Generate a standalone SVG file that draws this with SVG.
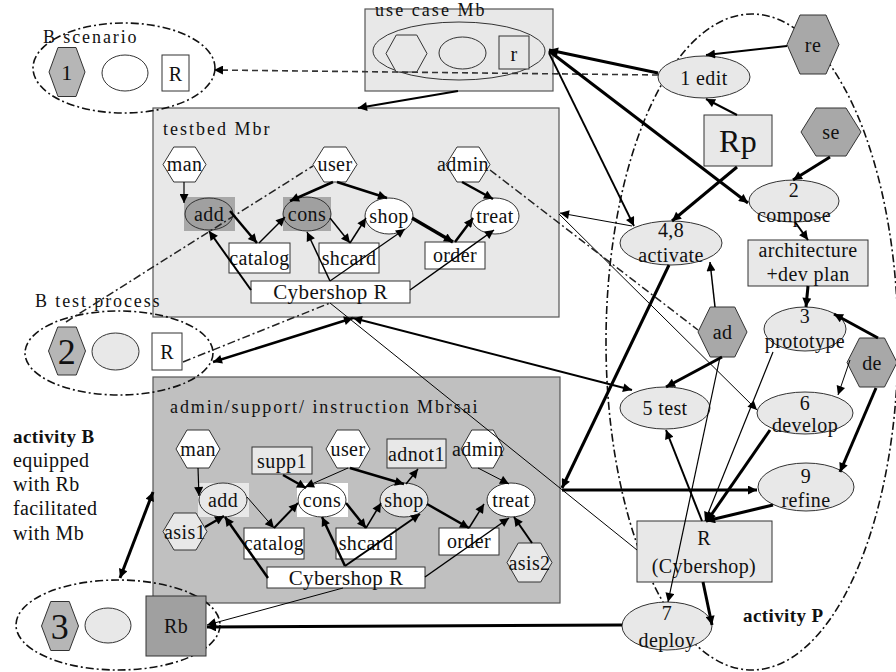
<svg xmlns="http://www.w3.org/2000/svg" width="896" height="672" viewBox="0 0 896 672" font-family="'Liberation Serif', 'Times New Roman', serif">
<defs>
<style>
text{font-family:"Liberation Serif","Times New Roman",serif;font-size:20px;fill:#111;letter-spacing:0.4px}
.m{text-anchor:middle}
.lbl{font-size:18px}
.bold{font-weight:bold;font-size:19px}
.nd{stroke:#333;stroke-width:1}
.box{stroke:#555;stroke-width:1.2}
.w{fill:#fff}
.lg{fill:#e8e8e8}
.dg{fill:#a8a8a8}
.mg{fill:#b6b6b6}
.e{fill:none;stroke:#111;stroke-width:1.6;stroke-dasharray:8 3 2 3}
#conn line{stroke:#000;fill:none}
#conn .dd{stroke-dasharray:8 3 2 3;stroke:#222}
#conn .ds{stroke-dasharray:6 4;stroke:#333}
.a{marker-end:url(#ah)}
.d{marker-end:url(#ah);marker-start:url(#ah)}
</style>
<marker id="ah" viewBox="0 0 10 10" refX="10" refY="5" markerWidth="11" markerHeight="9" markerUnits="userSpaceOnUse" orient="auto-start-reverse"><path d="M0,0 L10,5 L0,10 z" fill="#000"/></marker>
</defs>
<rect width="896" height="672" fill="#fff"/>

<!-- containers -->
<g id="usecase">
<rect class="box lg" x="365" y="9" width="188" height="82"/>
<text class="lbl" x="375" y="16" textLength="110">use case Mb</text>
<ellipse class="nd lg" cx="459" cy="51" rx="86" ry="29"/>
<polygon class="nd lg" points="386,53.5 396.25,35 416.75,35 427,53.5 416.75,72 396.25,72"/>
<ellipse class="nd lg" cx="462.5" cy="53" rx="23.5" ry="16"/>
<rect class="nd lg" x="499" y="36" width="30" height="33"/>
<text class="m" x="514" y="61">r</text>
</g>

<g id="testbed">
<rect class="box lg" x="153" y="108" width="406" height="209"/>
<text class="lbl" x="163" y="135" textLength="107">testbed Mbr</text>
</g>

<g id="adminbox">
<rect class="box" fill="#c0c0c0" x="153" y="377" width="407" height="226"/>
<text class="lbl" x="170" y="413" textLength="308">admin/support/ instruction Mbrsai</text>
</g>

<!-- left scenario ellipses -->
<g id="Bscenario">
<ellipse class="e" cx="124" cy="68" rx="91" ry="45"/>
<text class="lbl" x="43" y="43" textLength="94">B scenario</text>
<polygon class="nd mg" points="49,72 58,47.5 76,47.5 85,72 76,96.5 58,96.5"/>
<text class="m" x="67" y="80" style="font-size:22px">1</text>
<ellipse class="nd w" cx="125" cy="73" rx="23" ry="18"/>
<rect class="nd w" x="162" y="55" width="27" height="36"/>
<text class="m" x="175.5" y="81">R</text>
</g>

<g id="Btest">
<ellipse class="e" cx="119" cy="353" rx="94" ry="42"/>
<text class="lbl" x="35" y="307" textLength="125">B test process</text>
<polygon class="nd mg" points="48.5,351 57.75,327 76.25,327 85.5,351 76.25,375 57.75,375"/>
<text class="m" x="67" y="364" style="font-size:36px">2</text>
<ellipse class="nd lg" cx="115.5" cy="351.5" rx="23.5" ry="18.5"/>
<rect class="nd w" x="152" y="333" width="30" height="37"/>
<text class="m" x="167" y="359">R</text>
</g>

<g id="B3">
<ellipse class="e" cx="118" cy="625" rx="102" ry="45"/>
<polygon class="nd mg" points="41.5,626 50.75,601.5 69.25,601.5 78.5,626 69.25,650.5 50.75,650.5"/>
<text class="m" x="60" y="639" style="font-size:36px">3</text>
<ellipse class="nd lg" cx="108" cy="625.5" rx="23" ry="17.5"/>
<rect class="nd" fill="#a0a0a0" x="146" y="596" width="60" height="60"/>
<text class="m" x="176" y="633">Rb</text>
</g>

<g id="activityB">
<text class="bold" x="13" y="443">activity B</text>
<text x="13" y="467">equipped</text>
<text x="13" y="491">with Rb</text>
<text x="13" y="515">facilitated</text>
<text x="13" y="540">with Mb</text>
</g>

<g id="activityP">
<ellipse class="e" cx="752" cy="342" rx="146" ry="328"/>
<text class="bold" x="743" y="622">activity P</text>
</g>

<!-- testbed nodes -->
<g id="tb-man"><polygon class="nd w" points="163,164.5 173.75,147 195.25,147 206,164.5 195.25,182 173.75,182"/><text class="m" x="184.5" y="171">man</text></g>
<g id="tb-user"><polygon class="nd w" points="313,164.5 324,147 346,147 357,164.5 346,182 324,182"/><text class="m" x="335" y="171">user</text></g>
<g id="tb-admin"><polygon class="nd w" points="446,164.5 457,147 479,147 490,164.5 479,182 457,182"/><text class="m" x="463" y="171">admin</text></g>
<g id="tb-add"><rect fill="#a8a8a8" x="184" y="197" width="51" height="34"/><ellipse class="nd" fill="#a0a0a0" cx="209" cy="214" rx="24" ry="16"/><text class="m" x="209" y="221">add</text></g>
<g id="tb-cons"><rect fill="#a8a8a8" x="283" y="197" width="48" height="34"/><ellipse class="nd" fill="#a0a0a0" cx="307" cy="214" rx="24" ry="17"/><text class="m" x="307" y="221">cons</text></g>
<g id="tb-shop"><ellipse class="nd w" cx="389" cy="216" rx="24" ry="18"/><text class="m" x="389" y="223">shop</text></g>
<g id="tb-treat"><ellipse class="nd w" cx="495" cy="216" rx="24" ry="18"/><text class="m" x="495" y="223">treat</text></g>
<g id="tb-catalog"><rect class="nd w" x="229" y="243" width="61" height="30"/><text class="m" x="259.5" y="265">catalog</text></g>
<g id="tb-shcard"><rect class="nd w" x="319" y="243" width="60" height="30"/><text class="m" x="349" y="265">shcard</text></g>
<g id="tb-order"><rect class="nd w" x="425" y="242" width="60" height="27"/><text class="m" x="455" y="262">order</text></g>
<g id="tb-cyber"><rect class="nd w" x="251" y="281" width="159" height="22"/><text class="m" x="330.5" y="299" style="font-size:21px">Cybershop R</text></g>

<!-- admin box nodes -->
<g id="ad-man"><polygon class="nd w" points="176,449 187,430 209,430 220,449 209,468 187,468"/><text class="m" x="198" y="456">man</text></g>
<g id="ad-supp1"><rect class="nd lg" x="252" y="447" width="60" height="27"/><text class="m" x="282" y="468">supp1</text></g>
<g id="ad-user"><polygon class="nd w" points="326,449 337,430 359,430 370,449 359,468 337,468"/><text class="m" x="348" y="456">user</text></g>
<g id="ad-adnot1"><rect class="nd lg" x="387" y="439" width="59" height="29"/><text class="m" x="416.5" y="461">adnot1</text></g>
<g id="ad-admin"><polygon class="nd w" points="461,449 471.75,430 493.25,430 504,449 493.25,468 471.75,468"/><text class="m" x="478" y="456">admin</text></g>
<g id="ad-add"><rect class="lg" x="198" y="483" width="51" height="34"/><ellipse class="nd lg" cx="223" cy="500" rx="24" ry="17"/><text class="m" x="223" y="507">add</text></g>
<g id="ad-cons"><rect class="w" x="297" y="483" width="51" height="34"/><ellipse class="nd w" cx="322" cy="500" rx="24" ry="17"/><text class="m" x="322" y="507">cons</text></g>
<g id="ad-shop"><ellipse class="nd lg" cx="404" cy="500" rx="24" ry="17"/><text class="m" x="404" y="507">shop</text></g>
<g id="ad-treat"><ellipse class="nd w" cx="511" cy="500" rx="24" ry="17"/><text class="m" x="511" y="507">treat</text></g>
<g id="ad-asis1"><polygon class="nd lg" points="163,531.5 174,513 196,513 207,531.5 196,550 174,550"/><text class="m" x="185" y="539">asis1</text></g>
<g id="ad-catalog"><rect class="nd w" x="244" y="528" width="60" height="31"/><text class="m" x="274" y="550">catalog</text></g>
<g id="ad-shcard"><rect class="nd w" x="336" y="528" width="60" height="31"/><text class="m" x="366" y="550">shcard</text></g>
<g id="ad-order"><rect class="nd w" x="439" y="528" width="60" height="27"/><text class="m" x="469" y="548">order</text></g>
<g id="ad-asis2"><polygon class="nd lg" points="507,562.5 518.25,543 540.75,543 552,562.5 540.75,582 518.25,582"/><text class="m" x="529.5" y="570">asis2</text></g>
<g id="ad-cyber"><rect class="nd w" x="267" y="567" width="158" height="21"/><text class="m" x="346" y="585" style="font-size:21px">Cybershop R</text></g>

<!-- right side nodes -->
<g id="re"><polygon class="nd dg" points="787,44.5 800,15 826,15 839,44.5 826,74 800,74"/><text class="m" x="813" y="52">re</text></g>
<g id="edit1"><ellipse class="nd lg" cx="704" cy="77" rx="46" ry="21"/><text class="m" x="704" y="85">1 edit</text></g>
<g id="Rp"><rect class="nd lg" x="704" y="115" width="68" height="51"/><text class="m" x="738" y="152" style="font-size:32px">Rp</text></g>
<g id="se"><polygon class="nd dg" points="801,132 816,108 846,108 861,132 846,156 816,156"/><text class="m" x="831" y="139">se</text></g>
<g id="compose2"><ellipse class="nd lg" cx="794" cy="201" rx="45" ry="21"/><text class="m" x="794" y="197">2</text><text class="m" x="794" y="222">compose</text></g>
<g id="arch"><rect class="nd lg" x="748" y="240" width="120" height="46"/><text class="m" x="808" y="257">architecture</text><text class="m" x="808" y="281">+dev plan</text></g>
<g id="activate48"><ellipse class="nd lg" cx="671" cy="243" rx="51" ry="22"/><text class="m" x="671" y="237">4,8</text><text class="m" x="671" y="262">activate</text></g>
<g id="ad"><polygon class="nd dg" points="698,332 710.25,307 734.75,307 747,332 734.75,357 710.25,357"/><text class="m" x="722.5" y="339">ad</text></g>
<g id="proto3"><ellipse class="nd lg" cx="805" cy="329" rx="41" ry="22"/><text class="m" x="805" y="323">3</text><text class="m" x="805" y="348">prototype</text></g>
<g id="de"><polygon class="nd dg" points="847,362.5 859.5,338 884.5,338 897,362.5 884.5,387 859.5,387"/><text class="m" x="872" y="370">de</text></g>
<g id="test5"><ellipse class="nd lg" cx="665" cy="408" rx="45" ry="21"/><text class="m" x="665" y="415">5 test</text></g>
<g id="develop6"><ellipse class="nd lg" cx="805" cy="413" rx="48" ry="21"/><text class="m" x="805" y="410">6</text><text class="m" x="805" y="432">develop</text></g>
<g id="refine9"><ellipse class="nd lg" cx="806" cy="487" rx="48" ry="24"/><text class="m" x="806" y="483">9</text><text class="m" x="806" y="507">refine</text></g>
<g id="Rcyber"><rect class="nd lg" x="637" y="521" width="135" height="61"/><text class="m" x="704" y="545">R</text><text class="m" x="704" y="573">(Cybershop)</text></g>
<g id="deploy7"><ellipse class="nd lg" cx="667" cy="626" rx="45" ry="24"/><text class="m" x="667" y="620">7</text><text class="m" x="667" y="647">deploy</text></g>

<!-- connectors -->
<g id="conn">
<line class="ds a" x1="658" y1="75" x2="214" y2="70" stroke-width="1.6"/>
<line class="a" x1="658" y1="73" x2="549" y2="50" stroke-width="3"/>
<line class="a" x1="549" y1="51" x2="748" y2="203" stroke-width="3"/>
<line class="a" x1="549" y1="53" x2="634" y2="226" stroke-width="1.8"/>
<line class="a" x1="458" y1="91" x2="358" y2="108" stroke-width="2"/>
<line class="a" x1="787" y1="46" x2="706" y2="55" stroke-width="2"/>
<line class="a" x1="737" y1="115" x2="706" y2="99" stroke-width="2"/>
<line class="a" x1="737" y1="167" x2="672" y2="221" stroke-width="3"/>
<line class="a" x1="830" y1="157" x2="793" y2="180" stroke-width="3"/>
<line class="a" x1="795" y1="222" x2="808" y2="240" stroke-width="2"/>
<line class="a" x1="808" y1="286" x2="806" y2="307" stroke-width="3"/>
<line class="a" x1="878" y1="338" x2="834" y2="314" stroke-width="3"/>
<line class="a" x1="850" y1="360" x2="838" y2="395" stroke-width="1"/>
<line class="a" x1="876" y1="388" x2="840" y2="472" stroke-width="3"/>
<line class="a" x1="715" y1="307" x2="710" y2="262" stroke-width="1.5"/>
<line class="a" x1="722" y1="357" x2="666" y2="387" stroke-width="3"/>
<line class="a" x1="720" y1="357" x2="668" y2="602" stroke-width="1.2"/>
<line class="a" x1="702" y1="521" x2="666" y2="430" stroke-width="2"/>
<line class="a" x1="773" y1="352" x2="705" y2="521" stroke-width="1.2"/>
<line class="a" x1="770" y1="430" x2="707" y2="521" stroke-width="3"/>
<line class="a" x1="773" y1="505" x2="706" y2="521" stroke-width="3"/>
<line class="a" x1="703" y1="582" x2="712" y2="625" stroke-width="3"/>
<line class="a" x1="669" y1="265" x2="562" y2="488" stroke-width="3"/>
<line class="a" x1="632" y1="226" x2="560" y2="213" stroke-width="1"/>
<line class="a" x1="562" y1="490" x2="757" y2="490" stroke-width="3"/>
<line class="a" x1="559" y1="214" x2="757" y2="410" stroke-width="1"/>
<line x1="330" y1="303" x2="637" y2="550" stroke-width="1"/>
<line class="d" x1="353" y1="318" x2="632" y2="390" stroke-width="2"/>
<line class="d" x1="213" y1="362" x2="353" y2="318" stroke-width="2.5"/>
<line class="dd" x1="183" y1="362" x2="330" y2="303" stroke-width="1.5"/>
<line class="dd" x1="66" y1="322" x2="313" y2="166" stroke-width="1.5"/>
<line class="dd" x1="490" y1="170" x2="698" y2="330" stroke-width="1.5"/>
<line class="a" x1="622" y1="625" x2="207" y2="627" stroke-width="3"/>
<line class="a" x1="343" y1="588" x2="207" y2="625" stroke-width="1"/>
<line class="d" x1="120" y1="578" x2="153" y2="492" stroke-width="3"/>
<!-- testbed internal -->
<line class="a" x1="184" y1="182" x2="184" y2="203" stroke-width="1.2"/>
<line class="a" x1="333" y1="182" x2="290" y2="201" stroke-width="2.5"/>
<line class="a" x1="337" y1="182" x2="387" y2="198" stroke-width="2.5"/>
<line class="a" x1="462" y1="182" x2="493" y2="199" stroke-width="2.5"/>
<line class="a" x1="230" y1="211" x2="257" y2="243" stroke-width="2.5"/>
<line class="a" x1="259" y1="243" x2="285" y2="217" stroke-width="1.5"/>
<line class="a" x1="330" y1="218" x2="350" y2="243" stroke-width="1.5"/>
<line class="a" x1="350" y1="243" x2="366" y2="218" stroke-width="1.5"/>
<line class="a" x1="412" y1="218" x2="453" y2="242" stroke-width="3.5"/>
<line class="a" x1="455" y1="242" x2="473" y2="218" stroke-width="2.5"/>
<line class="a" x1="251" y1="290" x2="209" y2="231" stroke-width="2"/>
<line class="a" x1="330" y1="281" x2="307" y2="232" stroke-width="1.5"/>
<line class="a" x1="330" y1="281" x2="405" y2="229" stroke-width="1.2"/>
<line class="a" x1="410" y1="290" x2="494" y2="230" stroke-width="1.5"/>
<!-- admin internal -->
<line class="a" x1="198" y1="468" x2="199" y2="496" stroke-width="1.2"/>
<line class="a" x1="283" y1="475" x2="306" y2="488" stroke-width="2.5"/>
<line class="a" x1="348" y1="468" x2="305" y2="487" stroke-width="1"/>
<line class="a" x1="350" y1="468" x2="404" y2="484" stroke-width="2.5"/>
<line class="a" x1="406" y1="484" x2="418" y2="469" stroke-width="1.5"/>
<line class="a" x1="478" y1="468" x2="509" y2="484" stroke-width="1"/>
<line class="a" x1="247" y1="497" x2="274" y2="528" stroke-width="1"/>
<line class="a" x1="274" y1="528" x2="298" y2="503" stroke-width="2"/>
<line class="a" x1="346" y1="503" x2="366" y2="528" stroke-width="2.5"/>
<line class="a" x1="366" y1="528" x2="381" y2="503" stroke-width="1.5"/>
<line class="a" x1="427" y1="504" x2="469" y2="528" stroke-width="2.5"/>
<line class="a" x1="469" y1="528" x2="484" y2="504" stroke-width="1.5"/>
<line class="a" x1="205" y1="527" x2="224" y2="516" stroke-width="2.5"/>
<line class="a" x1="532" y1="543" x2="514" y2="517" stroke-width="2"/>
<line class="a" x1="268" y1="578" x2="225" y2="517" stroke-width="2.5"/>
<line class="a" x1="345" y1="566" x2="322" y2="517" stroke-width="2.5"/>
<line class="a" x1="345" y1="566" x2="420" y2="514" stroke-width="2"/>
<line class="a" x1="425" y1="577" x2="509" y2="518" stroke-width="1.5"/>
</g>
</svg>
